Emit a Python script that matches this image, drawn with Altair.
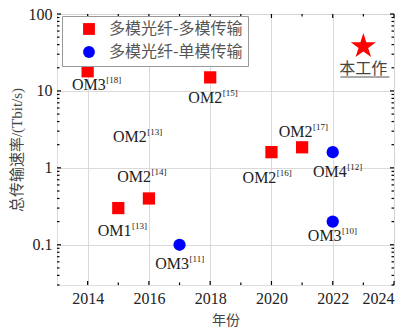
import altair as alt
import pandas as pd

# Multimode fibre, multimode transmission
mm_years = [2014, 2015, 2016, 2018, 2020, 2021]
mm_rates = [18, 0.3, 0.4, 15, 1.6, 1.85]
# Multimode fibre, single-mode transmission
sm_years = [2017, 2022, 2022]
sm_rates = [0.1, 1.6, 0.2]
series_names = ["多模光纤-多模传输", "多模光纤-单模传输"]

# This work
star_year = [2023]
star_rate = [38]

# Point labels: main text, reference superscript, anchor (year, rate)
lab_main = ["OM3", "OM2", "OM2", "OM2", "OM1", "OM3", "OM2", "OM4", "OM3", "OM2"]
lab_sup = ["[18]", "[15]", "[13]", "[14]", "[13]", "[11]", "[16]", "[12]", "[10]", "[17]"]
lab_year = [2014.59, 2018.39, 2015.93, 2016.07, 2015.43, 2017.31, 2020.16, 2022.46, 2022.29, 2021.34]
lab_rate = [11.9, 8.1, 2.55, 0.77, 0.152, 0.057, 0.74, 0.89, 0.131, 2.95]

x_major = [2014, 2016, 2018, 2020, 2022, 2024]
x_minor = [2015, 2017, 2019, 2021, 2023]
y_major = [0.1, 1, 10, 100]
y_minor = [m * d for d in (0.01, 0.1, 1, 10) for m in range(2, 10) if 0.03 <= m * d < 100]

SERIF = "Liberation Serif, 'Noto Sans CJK SC'"
CJK = "'Noto Sans CJK SC', Liberation Serif"
W, H = 337, 271

xs = alt.Scale(domain=[2013, 2024], nice=False)
ys = alt.Scale(type="log", domain=[0.03, 100], nice=False)

pts = pd.DataFrame({
    "year": mm_years + sm_years,
    "rate": mm_rates + sm_rates,
    "series": [series_names[0]] * len(mm_years) + [series_names[1]] * len(sm_years),
})

x_axis = alt.Axis(values=x_major, format="d", ticks=False, domain=False, grid=True,
                  gridColor="#d0d0d0", gridWidth=0.8, labelFont=SERIF, labelFontSize=16,
                  labelColor="#222", labelPadding=5, title="年份", titleFont=CJK,
                  titleFontSize=14, titleFontWeight="normal", titleColor="#444", titlePadding=7)
y_axis = alt.Axis(values=y_major, format="~g", ticks=False, domain=False, grid=True,
                  gridColor="#d0d0d0", gridWidth=0.8, labelFont=SERIF, labelFontSize=16,
                  labelColor="#222", labelPadding=5, title="总传输速率/(Tbit/s)",
                  titleFont=SERIF, titleFontSize=15, titleFontWeight="normal",
                  titleColor="#444", titlePadding=4)

points = alt.Chart(pts).mark_point(filled=True, opacity=1, size=150).encode(
    x=alt.X("year:Q", scale=xs, axis=x_axis),
    y=alt.Y("rate:Q", scale=ys, axis=y_axis),
    color=alt.Color("series:N", scale=alt.Scale(domain=series_names, range=["#ff0000", "#0000ff"]),
                    legend=alt.Legend(title=None, orient="none", legendX=5, legendY=2,
                                      labelFont=CJK, labelFontSize=16, labelColor="#555",
                                      symbolSize=140, symbolOpacity=1, strokeColor="#999",
                                      padding=5, rowPadding=5, labelOffset=12, symbolOffset=14,
                                      labelLimit=220, fillColor="white", cornerRadius=0)),
    shape=alt.Shape("series:N", scale=alt.Scale(domain=series_names, range=["square", "circle"])),
)

star_path = ("M0,-1 L0.2245,-0.309 L0.951,-0.309 L0.363,0.118 L0.588,0.809 L0,0.382 "
             "L-0.588,0.809 L-0.363,0.118 L-0.951,-0.309 L-0.2245,-0.309 Z")
star = alt.Chart(pd.DataFrame({"year": star_year, "rate": star_rate})).mark_point(
    shape=star_path, filled=True, color="#ff0000", opacity=1, size=700
).encode(x=alt.X("year:Q", scale=xs), y=alt.Y("rate:Q", scale=ys))

# Caption under the star, underlined
star_lab = alt.Chart(pd.DataFrame({"year": star_year, "t": ["本工作"]})).mark_text(
    font=CJK, fontSize=16, color="#444", baseline="middle"
).encode(x=alt.X("year:Q", scale=xs), y=alt.value(55), text="t:N")
star_line = alt.Chart(pd.DataFrame({"a": [2022.25], "b": [2023.85]})).mark_rule(
    color="#555", strokeWidth=1
).encode(x=alt.X("a:Q", scale=xs), x2="b:Q", y=alt.value(63))

labs = pd.DataFrame({"m": lab_main, "s": lab_sup, "year": lab_year, "rate": lab_rate})
main_txt = alt.Chart(labs).mark_text(
    font=SERIF, fontSize=16, color="#222", align="right", baseline="middle"
).encode(x=alt.X("year:Q", scale=xs), y=alt.Y("rate:Q", scale=ys), text="m:N")
sup_txt = alt.Chart(labs).mark_text(
    font=SERIF, fontSize=9, color="#222", align="left", baseline="middle", dx=0.5, dy=-5
).encode(x=alt.X("year:Q", scale=xs), y=alt.Y("rate:Q", scale=ys), text="s:N")

# Inward tick marks on all four sides
xmaj = pd.DataFrame({"year": x_major})
xmin = pd.DataFrame({"year": x_minor})
ymaj = pd.DataFrame({"rate": y_major})
ymin = pd.DataFrame({"rate": y_minor})
tick_style = dict(color="black", strokeWidth=1.2)
ticks = [
    alt.Chart(xmaj).mark_rule(**tick_style).encode(x=alt.X("year:Q", scale=xs), y=alt.value(H), y2=alt.value(H - 4)),
    alt.Chart(xmin).mark_rule(**tick_style).encode(x=alt.X("year:Q", scale=xs), y=alt.value(H), y2=alt.value(H - 2.5)),
    alt.Chart(xmaj).mark_rule(**tick_style).encode(x=alt.X("year:Q", scale=xs), y=alt.value(0), y2=alt.value(4)),
    alt.Chart(xmin).mark_rule(**tick_style).encode(x=alt.X("year:Q", scale=xs), y=alt.value(0), y2=alt.value(2.5)),
    alt.Chart(ymaj).mark_rule(**tick_style).encode(y=alt.Y("rate:Q", scale=ys), x=alt.value(0), x2=alt.value(4)),
    alt.Chart(ymin).mark_rule(**tick_style).encode(y=alt.Y("rate:Q", scale=ys), x=alt.value(0), x2=alt.value(2.5)),
    alt.Chart(ymaj).mark_rule(**tick_style).encode(y=alt.Y("rate:Q", scale=ys), x=alt.value(W), x2=alt.value(W - 4)),
    alt.Chart(ymin).mark_rule(**tick_style).encode(y=alt.Y("rate:Q", scale=ys), x=alt.value(W), x2=alt.value(W - 2.5)),
]

chart = alt.layer(points, *ticks, star, star_lab, star_line, main_txt, sup_txt).properties(
    width=W, height=H,
    autosize=alt.AutoSizeParams(type="none"),
    padding={"left": 57, "top": 14, "right": 17, "bottom": 48},
).configure_view(stroke="black", strokeWidth=1.8).configure(background="white")

chart.save("out.html", embed_options={"renderer": "svg", "actions": False})
